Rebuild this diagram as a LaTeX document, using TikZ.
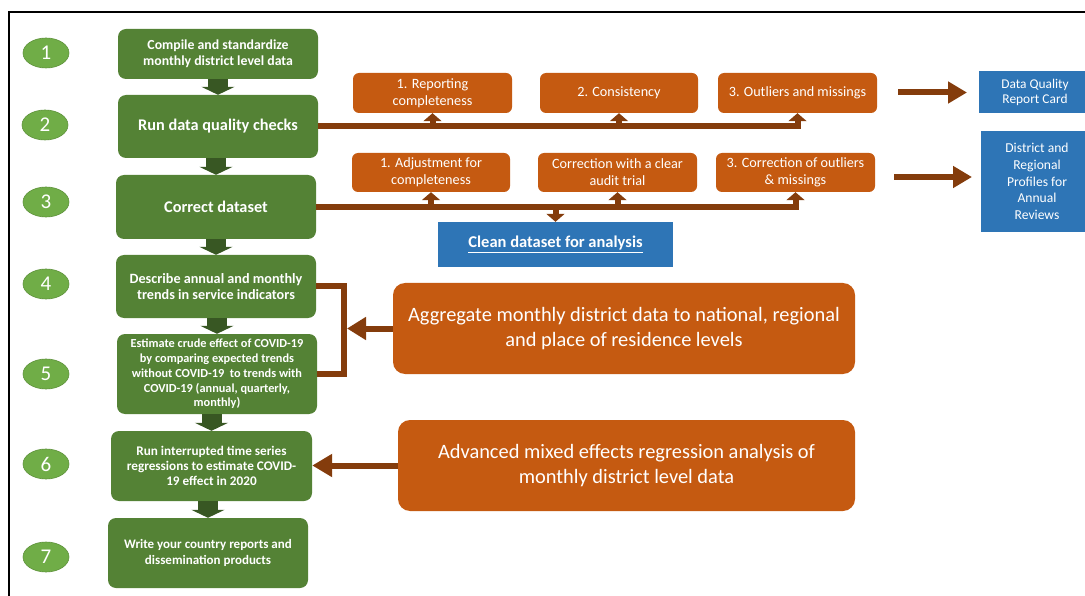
\documentclass[tikz,border=0pt]{standalone}
\usepackage{fontspec}
\setmainfont{Carlito}
\usetikzlibrary{arrows.meta,shapes.geometric,calc}
\definecolor{grnbox}{HTML}{548235}
\definecolor{grnell}{HTML}{70AD47}
\definecolor{grnarr}{HTML}{385723}
\definecolor{orng}{HTML}{C55A11}
\definecolor{brwn}{HTML}{843C0C}
\definecolor{blu}{HTML}{2E75B6}
\begin{document}
\begin{tikzpicture}[x=1pt,y=-1pt,
  numell/.style={ellipse, fill=grnell, draw=grnell!85!black, line width=0.6pt, minimum width=46pt, minimum height=30pt, inner sep=0pt, text=white, font=\fontsize{21}{24}\selectfont},
  greenbox/.style={rectangle, rounded corners=8pt, fill=grnbox, text=white, align=center, inner sep=0pt, minimum width=200pt},
  smallorange/.style={rectangle, rounded corners=6pt, fill=orng, text=white, align=center, inner sep=0pt, font=\fontsize{14.2}{16.8}\selectfont},
  bigorange/.style={rectangle, rounded corners=12pt, fill=orng, text=white, align=center, inner sep=0pt, font=\fontsize{20.4}{25}\selectfont},
  bluebox/.style={rectangle, fill=blu, text=white, align=center, inner sep=0pt},
  downarrow/.style={draw=grnarr, line width=20pt, -{Triangle[width=33pt,length=8pt]}},
  brownline/.style={draw=brwn, line width=6pt, line join=miter},
  uptip/.style={-{Triangle[width=18pt,length=8pt]}},
  bigtip/.style={-{Triangle[width=21pt,length=19pt]}}
]
\useasboundingbox (0,0) rectangle (1085,596);
\fill[white] (0,0) rectangle (1085,596);
\draw[line width=1.8pt] (1085,12) -- (9,12) -- (9,596);

% number ellipses
\node[numell] (n1) at (46,53) {1};
\node[numell] (n2) at (45,125) {2};
\node[numell] (n3) at (46,202) {3};
\node[numell] (n4) at (46,284) {4};
\node[numell] (n5) at (46,374) {5};
\node[numell] (n6) at (46,464) {6};
\node[numell] (n7) at (46,557) {7};

% green process boxes
\node[greenbox, minimum height=50pt, font=\bfseries\fontsize{13.8}{16}\selectfont] (b1) at (218,54) {Compile and standardize\\monthly district level data};
\node[greenbox, minimum height=63pt, font=\bfseries\fontsize{16.3}{19}\selectfont] (b2) at (218,126.5) {Run data quality checks};
\node[greenbox, minimum height=64pt, font=\bfseries\fontsize{16.3}{19}\selectfont] (b3) at (216,207) {Correct dataset};
\node[greenbox, minimum height=63pt, font=\bfseries\fontsize{14.2}{16.7}\selectfont] (b4) at (216,286.5) {Describe annual and monthly\\trends in service indicators};
\node[greenbox, minimum height=80pt, font=\bfseries\fontsize{12.3}{14.8}\selectfont] (b5) at (217,374) {Estimate crude effect of COVID-19\\by comparing expected trends\\without COVID-19\ \ to trends with\\COVID-19 (annual, quarterly,\\monthly)};
\node[greenbox, minimum width=201pt, minimum height=70pt, font=\bfseries\fontsize{13.2}{15.3}\selectfont] (b6) at (211.5,466) {Run interrupted time series\\regressions to estimate COVID-\\19 effect in 2020};
\node[greenbox, minimum height=70pt, font=\bfseries\fontsize{13}{15.3}\selectfont] (b7) at (208,553) {Write your country reports and\\dissemination products};

% green block arrows
\draw[downarrow] (b2.north |- b1.south) -- (b2.north);
\draw[downarrow] (b3.north |- b2.south) -- (b3.north);
\draw[downarrow] (b4.north |- b3.south) -- (b4.north);
\draw[downarrow] (b5.north |- b4.south) -- (b5.north);
\draw[downarrow] (b6.north |- b5.south) -- (b6.north);
\draw[downarrow] (b7.north |- b6.south) -- (b7.north);

% quality check boxes
\node[smallorange, minimum width=159pt, minimum height=40pt] (c1) at (432.5,93) {1. Reporting\\completeness};
\node[smallorange, minimum width=158pt, minimum height=40pt] (c2) at (619,93) {2. Consistency};
\node[smallorange, minimum width=159pt, minimum height=40pt] (c3) at (797.5,93) {3. Outliers and missings};
% correction boxes
\node[smallorange, minimum width=158pt, minimum height=39pt] (c4) at (431,172.5) {1. Adjustment for\\completeness};
\node[smallorange, minimum width=159pt, minimum height=39pt] (c5) at (617.5,172.5) {Correction with a clear\\audit trial};
\node[smallorange, minimum width=159pt, minimum height=39pt] (c6) at (795.5,172.5) {3. Correction of outliers\\\&\ missings};

% blue boxes
\node[bluebox, minimum width=235pt, minimum height=45pt, font=\bfseries\fontsize{16.5}{19}\selectfont] (clean) at (555.5,244.5) {\underline{Clean dataset for analysis}};
\node[bluebox, minimum width=112pt, minimum height=42pt, font=\fontsize{13.4}{15}\selectfont] (dq) at (1035,92) {Data Quality\\Report Card};
\node[bluebox, minimum width=112pt, minimum height=101pt, font=\fontsize{13.6}{16.8}\selectfont] (dr) at (1037,181.5) {District and\\Regional\\Profiles for\\Annual\\Reviews};

% big orange boxes
\node[bigorange, minimum width=462pt, minimum height=91pt] (agg) at (624,328.5) {Aggregate monthly district data to national, regional\\and place of residence levels};
\node[bigorange, minimum width=457pt, minimum height=91pt] (adv) at (626.5,465.5) {Advanced mixed effects regression analysis of\\monthly district level data};

% brown connectors, row of checks
\draw[brownline, uptip] (b2.east) -- (c3.south |- b2.east) -- (c3.south);
\draw[brownline, uptip] (c1.south |- b2.east) -- (c1.south);
\draw[brownline, uptip] (c2.south |- b2.east) -- (c2.south);
% row of corrections
\draw[brownline, uptip] (b3.east) -- (c6.south |- b3.east) -- (c6.south);
\draw[brownline, uptip] (c4.south |- b3.east) -- (c4.south);
\draw[brownline, uptip] (c5.south |- b3.east) -- (c5.south);
\draw[brownline, uptip] (clean.north |- b3.east) -- (clean.north);

% arrows to outputs
\coordinate (m1) at ($(c3.east)!0.5!(dq.west)$);
\coordinate (m2) at ($(c6.east)!0.5!(dr.west)$);
\draw[brownline, bigtip] ([xshift=-30pt]m1) -- ([xshift=39pt]m1);
\draw[brownline, bigtip] ([xshift=-34pt]m2) -- ([xshift=44pt]m2);

% bracket for steps 4 and 5
\coordinate (brk) at (344,330);
\draw[brownline] (b4.east) -- (b4.east -| brk) -- (b5.east -| brk) -- (b5.east);
\draw[brownline, -{Triangle[width=22pt,length=19pt]}] (agg.west) -- ([xshift=3pt]brk |- agg.west);
\draw[brownline, -{Triangle[width=22pt,length=20pt]}] (adv.west) -- (adv.west -| b6.east);
\end{tikzpicture}
\end{document}
